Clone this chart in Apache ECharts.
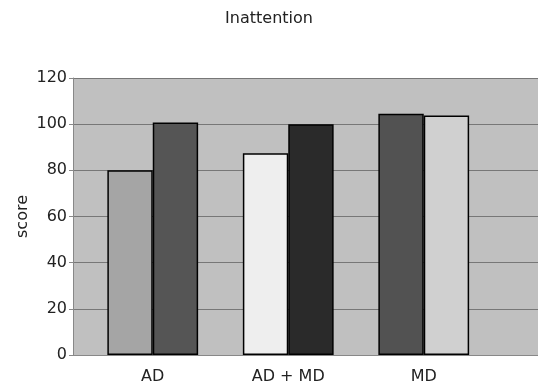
<!DOCTYPE html>
<html>
<head>
<meta charset="utf-8">
<script src="https://cdn.jsdelivr.net/npm/echarts@6/dist/echarts.min.js"></script>
<style>
  html, body { margin: 0; padding: 0; background: #fff; }
  #chart { width: 538px; height: 390px; }
</style>
</head>
<body>
<div id="chart"></div>
<script>
// Groups along the x axis
const categories = ['AD', 'AD + MD', 'MD'];
// Left and right bar of each group
const firstBar = [80, 87.4, 104.5];
const secondBar = [100.7, 100, 103.8];
// Fill of each bar, per group
const firstColors = ['#a5a5a5', '#eeeeee', '#525252'];
const secondColors = ['#555555', '#2a2a2a', '#d0d0d0'];
// Score axis
const yMin = 0, yMax = 120, yStep = 20;

const font = 'DejaVu Sans, Liberation Sans, sans-serif';
const plotTop = 78, plotBottom = 35;

function styled(values, colors) {
  return values.map((v, i) => ({
    value: v,
    itemStyle: { color: colors[i], borderColor: '#000', borderWidth: 1.5 }
  }));
}

const chart = echarts.init(document.getElementById('chart'));
chart.setOption({
  animation: false,
  title: {
    text: 'Inattention', left: 'center', top: 6,
    textStyle: { fontFamily: font, fontSize: 16, fontWeight: 'normal', color: '#222' }
  },
  grid: [
    // full plot panel: background, gridlines and score ticks
    { left: 73, right: 0, top: plotTop, bottom: plotBottom, show: true,
      backgroundColor: '#c0c0c0', borderWidth: 0 },
    // bar band, narrower than the panel
    { left: 85, width: 406.5, top: plotTop, bottom: plotBottom }
  ],
  xAxis: [
    { gridIndex: 0, type: 'value', min: 0, max: 1,
      axisLine: { show: true, onZero: false, lineStyle: { color: '#888', width: 1 } },
      axisTick: { show: false }, axisLabel: { show: false }, splitLine: { show: false } },
    { gridIndex: 1, type: 'category', data: categories,
      axisLine: { show: false }, axisTick: { show: false },
      axisLabel: { fontFamily: font, fontSize: 16, color: '#222', margin: 14 } }
  ],
  yAxis: [
    { gridIndex: 0, type: 'value', min: yMin, max: yMax, interval: yStep,
      name: 'score', nameLocation: 'middle', nameGap: 42, nameMoveOverlap: false,
      nameTextStyle: { fontFamily: font, fontSize: 16, color: '#222' },
      axisLine: { show: true, lineStyle: { color: '#888', width: 1 } },
      axisTick: { show: true, length: 4, lineStyle: { color: '#888' } },
      axisLabel: { fontFamily: font, fontSize: 16, color: '#222', margin: 6,
                   verticalAlign: 'middle', padding: [0, 0, 6, 0] },
      splitLine: { show: true, lineStyle: { color: '#777', width: 1 } } },
    { gridIndex: 1, type: 'value', min: yMin, max: yMax, interval: yStep, show: false }
  ],
  series: [
    { type: 'bar', xAxisIndex: 1, yAxisIndex: 1, data: styled(firstBar, firstColors),
      barGap: '0%', barCategoryGap: '33%' },
    { type: 'bar', xAxisIndex: 1, yAxisIndex: 1, data: styled(secondBar, secondColors),
      barGap: '0%', barCategoryGap: '33%' }
  ]
});
</script>
</body>
</html>
